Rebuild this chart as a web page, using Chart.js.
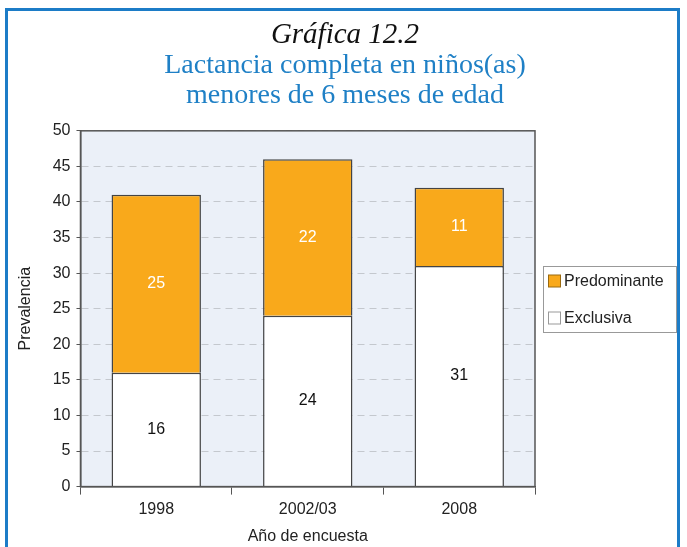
<!DOCTYPE html>
<html>
<head>
<meta charset="utf-8">
<script src="https://cdn.jsdelivr.net/npm/chart.js@4"></script>
<style>
  html, body { margin: 0; padding: 0; background: #fff; }
  #wrap { position: relative; width: 687px; height: 547px; overflow: hidden; }
  #frame { position: absolute; left: 5px; top: 8px; width: 675px; height: 600px;
           border: 3px solid #1c7cc7; box-sizing: border-box; }
  canvas { position: absolute; left: 0; top: 0; }
</style>
</head>
<body>
<div id="wrap">
  <div id="frame"></div>
  <canvas id="myChart" width="687" height="547"></canvas>
</div>
<script>
// Data for the chart
var years = ["1998", "2002/03", "2008"];
var exclusiva = [16, 24, 31];
var predominante = [25, 22, 11];
var yMax = 50;
var yStep = 5;

var orange = "#f9a91b";
var sans = "'Liberation Sans', Arial, sans-serif";
var serif = "'Liberation Serif', 'Times New Roman', serif";

// plot background + frame
var plotFrame = {
  id: "plotFrame",
  beforeDraw: function (chart) {
    var a = chart.chartArea, ctx = chart.ctx;
    ctx.save();
    ctx.fillStyle = "#ebf0f8";
    ctx.fillRect(a.left, a.top, a.right - a.left, a.bottom - a.top);
    ctx.restore();
  },
  afterDraw: function (chart) {
    var a = chart.chartArea, ctx = chart.ctx;
    ctx.save();
    ctx.strokeStyle = "#555";
    ctx.lineWidth = 1.5;
    ctx.strokeRect(a.left, a.top, a.right - a.left, a.bottom - a.top);
    ctx.restore();
  }
};

// values written inside the bars
var barValues = {
  id: "barValues",
  afterDatasetsDraw: function (chart) {
    var ctx = chart.ctx;
    ctx.save();
    ctx.font = "16px " + sans;
    ctx.textAlign = "center";
    ctx.textBaseline = "middle";
    chart.data.datasets.forEach(function (ds, i) {
      chart.getDatasetMeta(i).data.forEach(function (bar, j) {
        ctx.fillStyle = ds.valueColor;
        ctx.fillText(ds.data[j], bar.x, (bar.y + bar.base) / 2);
      });
    });
    ctx.restore();
  }
};

// boxed legend on the right
var boxLegend = {
  id: "boxLegend",
  afterDraw: function (chart) {
    var a = chart.chartArea, ctx = chart.ctx;
    var left = a.right + 8, top = 266, w = 133, h = 66;
    ctx.save();
    ctx.strokeStyle = "#999";
    ctx.lineWidth = 1;
    ctx.strokeRect(left + 0.5, top + 0.5, w, h);
    var items = chart.data.datasets.slice().reverse();
    ctx.font = "16px " + sans;
    ctx.textBaseline = "middle";
    items.forEach(function (ds, k) {
      var cy = top + 15 + k * 37;
      ctx.fillStyle = ds.backgroundColor;
      ctx.fillRect(left + 5.5, cy - 6, 12, 12);
      ctx.strokeStyle = ds.legendBorder;
      ctx.strokeRect(left + 5.5, cy - 6, 12, 12);
      ctx.fillStyle = "#222";
      ctx.fillText(ds.label, left + 21, cy + 1);
    });
    ctx.restore();
  }
};

var config = {
  type: "bar",
  data: {
    labels: years,
    datasets: [
      {
        label: "Exclusiva",
        data: exclusiva,
        backgroundColor: "#ffffff",
        borderColor: "#444",
        borderWidth: 1.5,
        legendBorder: "#999",
        valueColor: "#111"
      },
      {
        label: "Predominante",
        data: predominante,
        backgroundColor: orange,
        borderColor: "#444",
        borderWidth: 1.5,
        legendBorder: "#9a6a10",
        valueColor: "#ffffff"
      }
    ]
  },
  options: {
    responsive: false,
    animation: false,
    categoryPercentage: 1,
    barPercentage: 0.59,
    layout: { padding: { top: 19, left: 3, right: 0, bottom: 1 } },
    scales: {
      x: {
        stacked: true,
        grid: { drawOnChartArea: false, drawTicks: true, tickLength: 8, color: "#555", offset: true },
        border: { color: "#555", width: 1.5 },
        ticks: { color: "#222", font: { size: 16, family: sans }, padding: 5 },
        title: { display: true, text: "Año de encuesta", color: "#222",
                 font: { size: 16, family: sans }, padding: { top: 3, bottom: 0 } }
      },
      y: {
        stacked: true,
        min: 0,
        max: yMax,
        grid: { color: "#c4c8ce", tickColor: "#555", tickLength: 4, lineWidth: 1 },
        border: { color: "#555", width: 1.5, dash: [7, 5] },
        ticks: { stepSize: yStep, color: "#222", font: { size: 16, family: sans }, padding: 6 },
        title: { display: true, text: "Prevalencia", color: "#222",
                 font: { size: 16, family: sans }, padding: { top: 13, bottom: 11.5 } }
      },
      // empty axis on the right, keeps room for the legend box
      side: {
        position: "right",
        display: true,
        min: 0,
        max: 1,
        grid: { display: false },
        border: { display: false },
        ticks: { display: false },
        afterFit: function (scale) { scale.width = 152; }
      }
    },
    plugins: {
      legend: { display: false },
      tooltip: { enabled: false },
      title: {
        display: true,
        text: "Gráfica 12.2",
        color: "#111",
        font: { size: 29, family: serif, style: "italic", weight: "normal", lineHeight: 1.1 },
        padding: { top: 0, bottom: 0 }
      },
      subtitle: {
        display: true,
        text: ["Lactancia completa en niños(as)", "menores de 6 meses de edad"],
        color: "#1f80c6",
        font: { size: 28, family: serif, weight: "normal", lineHeight: 1.07 },
        padding: { top: 0, bottom: 20 }
      }
    }
  },
  plugins: [plotFrame, barValues, boxLegend]
};

var ctx = document.getElementById("myChart").getContext("2d");
var myChart = new Chart(ctx, config);
</script>
</body>
</html>
